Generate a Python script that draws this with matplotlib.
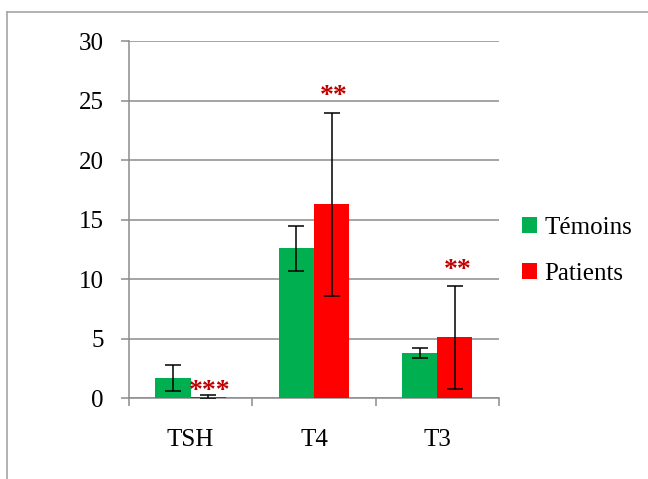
import matplotlib
matplotlib.use("Agg")
import matplotlib.pyplot as plt
from matplotlib.lines import Line2D
import numpy as np

categories = ["TSH", "T4", "T3"]
temoins = [1.7, 12.6, 3.78]
temoins_err = [1.1, 1.9, 0.44]
patients = [0.08, 16.3, 5.1]
patients_err = [0.15, 7.7, 4.3]
signif = ["***", "**", "**"]

GREEN = "#00B050"
RED = "#FF0000"
STAR = "#C00000"
GRID = "#8C8C8C"
FONT = "Liberation Serif"
FS = 18

fig = plt.figure(figsize=(6.48, 4.79), dpi=100)
ax = fig.add_axes([0.199, 0.169, 0.571, 0.745])

x = np.arange(len(categories))
w = 0.285
ax.bar(x - w / 2, temoins, w, color=GREEN, label="Témoins", zorder=3)
ax.bar(x + w / 2, patients, w, color=RED, label="Patients", zorder=3)
ekw = dict(fmt="none", ecolor="black", elinewidth=1.1, capsize=6, capthick=1.1, zorder=4)
ax.errorbar(x - w / 2, temoins, yerr=temoins_err, **ekw)
ax.errorbar(x + w / 2, patients, yerr=patients_err, **ekw)

# significance markers
star_kw = dict(color=STAR, fontsize=20, fontweight="bold", family=FONT,
               ha="center", va="center", zorder=5)
ax.text(x[0] + w / 2 + 0.01, patients[0] + patients_err[0] + 0.35, signif[0], **star_kw)
for i in (1, 2):
    top = patients[i] + patients_err[i]
    ax.text(x[i] + w / 2 + 0.02, top + 1.35, signif[i], **star_kw)

ax.set_ylim(0, 30)
ax.set_xlim(-0.5, 2.5)
ax.set_yticks(np.arange(0, 31, 5))
ax.yaxis.grid(True, color=GRID, linewidth=1.1, zorder=0)
ax.set_xticks(x)
ax.set_xticklabels(categories, family=FONT, fontsize=FS)
ax.set_xticks([-0.5, 0.5, 1.5, 2.5], minor=True)
ax.tick_params(axis="x", which="major", length=0, pad=22)
ax.tick_params(axis="x", which="minor", length=6, color=GRID, width=1.1)
ax.tick_params(axis="y", length=6, color=GRID, width=1.1, pad=12)
for lab in ax.get_yticklabels():
    lab.set_family(FONT)
    lab.set_fontsize(FS)
for s in ("top", "right"):
    ax.spines[s].set_visible(False)
for s in ("left", "bottom"):
    ax.spines[s].set_color(GRID)
    ax.spines[s].set_linewidth(1.1)

leg = fig.legend(loc="upper left", bbox_to_anchor=(0.771, 0.594), frameon=False,
                 prop={"family": FONT, "size": FS}, handlelength=0.6, handleheight=0.6,
                 handletextpad=0.3, labelspacing=0.95)

# outer chart frame
fig.add_artist(Line2D([0.011, 0.011], [0, 0.975], color="#A6A6A6", lw=1.2))
fig.add_artist(Line2D([0.011, 1.0], [0.975, 0.975], color="#A6A6A6", lw=1.2))

fig.savefig("out.png", dpi=100)
